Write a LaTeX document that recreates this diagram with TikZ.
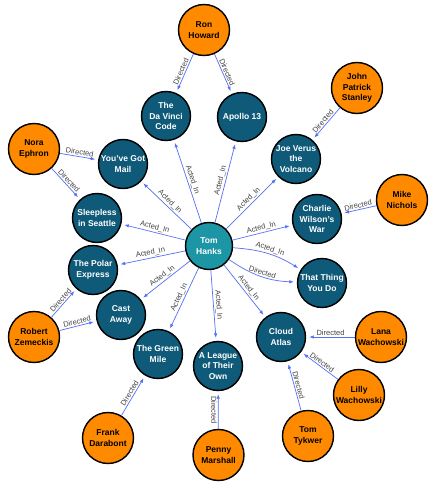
\documentclass[tikz,border=0pt]{standalone}
\usepackage{fontspec}
\setmainfont{Liberation Sans}
\usetikzlibrary{arrows.meta}
\definecolor{moviecol}{HTML}{0E5A78}
\definecolor{actorcol}{HTML}{1C95A5}
\definecolor{personcol}{HTML}{FF8A00}
\definecolor{edgecol}{HTML}{5570F5}
\definecolor{lblcol}{HTML}{444444}
\tikzset{
	movie/.style={circle, draw=black, line width=0.5mm, fill=moviecol, text=white, minimum size=49pt, inner sep=0pt, align=center, font=\fontsize{8.5}{10.5}\selectfont\bfseries},
	person/.style={movie, fill=personcol, text=black, minimum size=51pt},
	actor/.style={movie, fill=actorcol, minimum size=47pt},
	rel/.style={draw=edgecol, line width=0.25mm, -{Latex[length=4.5pt,width=3.5pt]}, shorten >=3pt},
	lbl/.style={midway, sloped, above, inner sep=1.2pt, text=lblcol, font=\fontsize{7.5}{8.5}\selectfont},
}

\begin{document}
\begin{tikzpicture}[x=1pt, y=-1pt]
		%%%%% START %%%%%
		
		\fill[white] (0, 0) rectangle (435, 486);
		\useasboundingbox (0, 0) rectangle (435, 486);
		
		\node[actor] (hanks) at (209, 246) {Tom\\Hanks};
		
		\node[movie] (davinci) at (166, 116) {The\\Da Vinci\\Code};
		\node[movie] (apollo) at (242, 117) {Apollo 13};
		\node[movie] (joe) at (296, 159) {Joe Verus\\the\\Volcano};
		\node[movie] (charlie) at (317, 219) {Charlie\\Wilson's\\War};
		\node[movie] (thatthing) at (322, 283) {That Thing\\You Do};
		\node[movie] (cloud) at (281, 337) {Cloud\\Atlas};
		\node[movie] (league) at (218, 366) {A League\\of Their\\Own};
		\node[movie] (greenmile) at (158, 354) {The Green\\Mile};
		\node[movie] (castaway) at (121, 315) {Cast\\Away};
		\node[movie] (polar) at (93, 270) {The Polar\\Express};
		\node[movie] (sleepless) at (97, 218) {Sleepless\\in Seattle};
		\node[movie] (mail) at (123, 164) {You've Got\\Mail};
		
		\node[person] (ron) at (204, 30) {Ron\\Howard};
		\node[person] (stanley) at (357, 88) {John\\Patrick\\Stanley};
		\node[person] (nichols) at (402, 200) {Mike\\Nichols};
		\node[person] (lana) at (381, 337) {Lana\\Wachowski};
		\node[person] (lilly) at (359, 395) {Lilly\\Wachowski};
		\node[person] (tykwer) at (308, 436) {Tom\\Tykwer};
		\node[person] (penny) at (218.5, 455) {Penny\\Marshall};
		\node[person] (darabont) at (108, 438) {Frank\\Darabont};
		\node[person] (zemeckis) at (34, 337) {Robert\\Zemeckis};
		\node[person] (ephron) at (34, 149) {Nora\\Ephron};
		
		% acted in
		\draw[rel] (hanks) -- node[lbl] {Acted\_In} (davinci);
		\draw[rel] (hanks) -- node[lbl] {Acted\_In} (apollo);
		\draw[rel] (hanks) -- node[lbl] {Acted\_In} (joe);
		\draw[rel] (hanks) -- node[lbl] {Acted\_In} (charlie);
		\draw[rel] (hanks) to[bend left=14] node[lbl] {Acted\_In} (thatthing);
		\draw[rel] (hanks) to[bend right=16] node[lbl] {Directed} (thatthing);
		\draw[rel] (hanks) -- node[lbl] {Acted\_In} (cloud);
		\draw[rel] (hanks) -- node[lbl] {Acted\_In} (league);
		\draw[rel] (hanks) -- node[lbl] {Acted\_In} (greenmile);
		\draw[rel] (hanks) -- node[lbl] {Acted\_In} (castaway);
		\draw[rel] (hanks) -- node[lbl] {Acted\_In} (polar);
		\draw[rel] (hanks) -- node[lbl] {Acted\_In} (sleepless);
		\draw[rel] (hanks) -- node[lbl] {Acted\_In} (mail);
		
		% directed
		\draw[rel] (ron) -- node[lbl] {Directed} (davinci);
		\draw[rel] (ron) -- node[lbl] {Directed} (apollo);
		\draw[rel] (stanley) -- node[lbl] {Directed} (joe);
		\draw[rel] (nichols) -- node[lbl] {Directed} (charlie);
		\draw[rel] (lana) -- node[lbl] {Directed} (cloud);
		\draw[rel] (lilly) -- node[lbl] {Directed} (cloud);
		\draw[rel] (tykwer) -- node[lbl] {Directed} (cloud);
		\draw[rel] (penny) -- node[lbl, below] {Directed} (league);
		\draw[rel] (darabont) -- node[lbl] {Directed} (greenmile);
		\draw[rel] (zemeckis) -- node[lbl] {Directed} (castaway);
		\draw[rel] (zemeckis) -- node[lbl] {Directed} (polar);
		\draw[rel] (ephron) -- node[lbl] {Directed} (sleepless);
		\draw[rel] (ephron) -- node[lbl] {Directed} (mail);
		
		%%%%% END %%%%%
	\end{tikzpicture}
\end{document}
